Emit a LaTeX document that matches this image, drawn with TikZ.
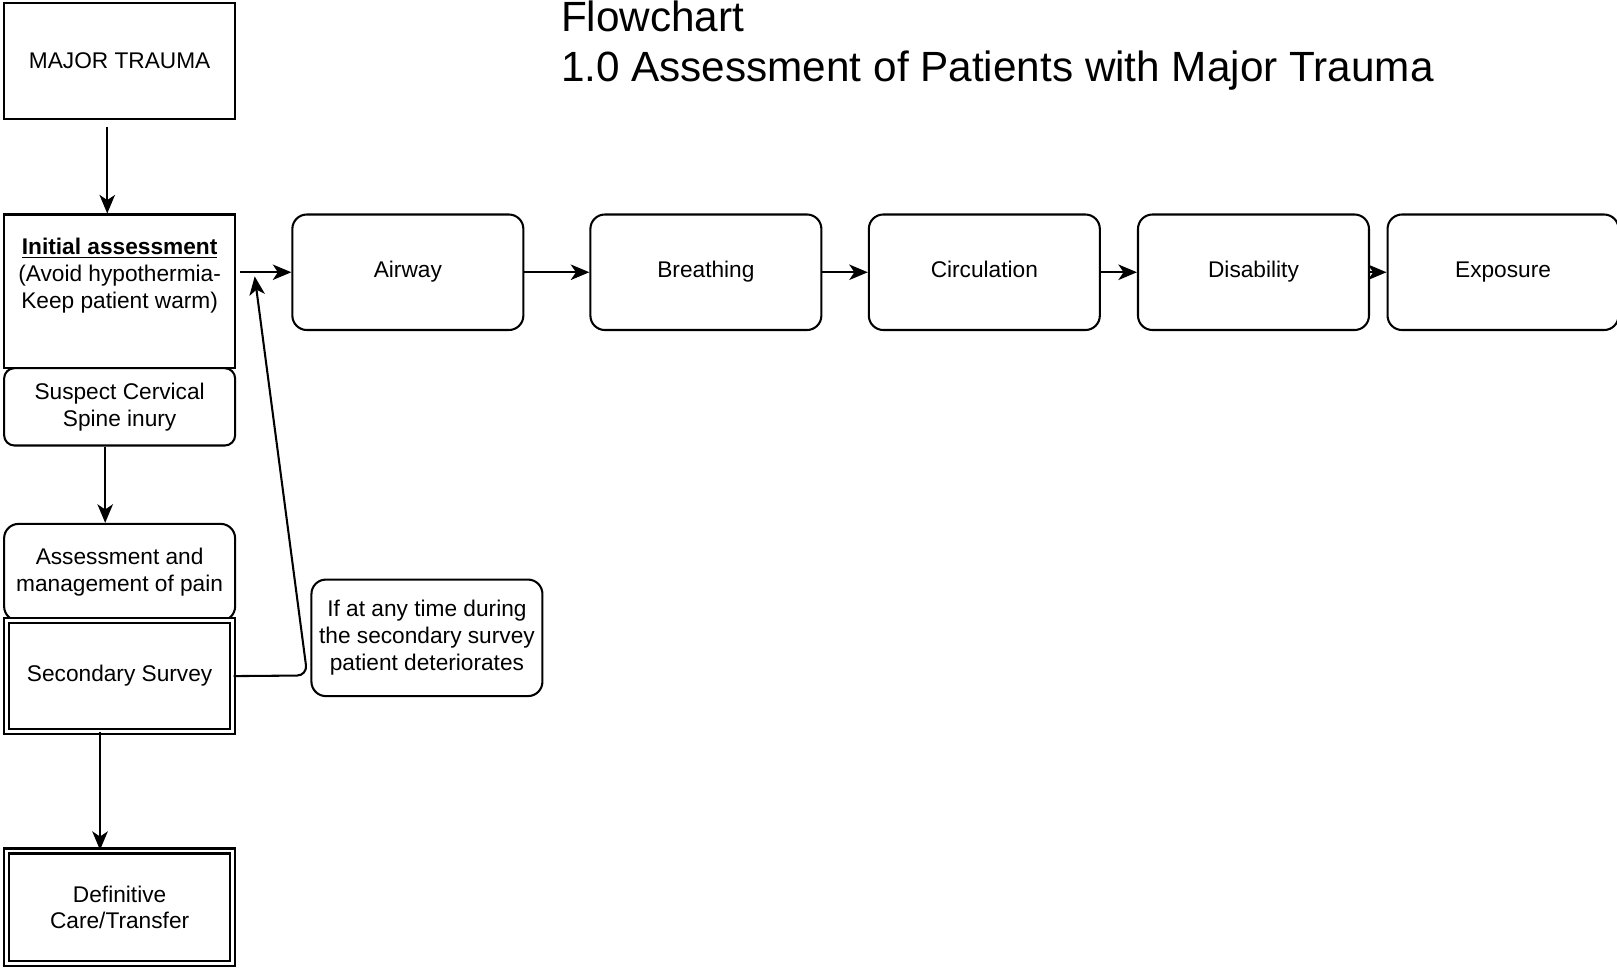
\documentclass[tikz,border=0pt]{standalone}
\usepackage{fontspec}
\setmainfont{Liberation Sans}
\usetikzlibrary{arrows.meta,positioning}

\begin{document}
\begin{tikzpicture}
[
x=1pt, y=1pt, line width=1pt,
>={Stealth[length=9pt,width=7.5pt,inset=2.5pt]},
box/.style={rectangle, draw=black, line width=1pt, minimum width=112pt, minimum height=56pt, align=center, inner sep=2pt, font=\fontsize{11}{13}\selectfont},
rbox/.style={box, rounded corners=7pt},
abox/.style={rbox, text height=8pt, text depth=2.5pt},
dbox/.style={box, double, double distance=1.4pt, line width=1pt, minimum width=109.6pt, minimum height=53.6pt},
title/.style={align=left, inner sep=0pt, font=\fontsize{20.5}{24}\selectfont}
]
\useasboundingbox (0,0) rectangle (784,-469);

%Nodes
\node[title]  (title)       at (271.5,-39.5) [anchor=base west] {Flowchart\\1.0 Assessment of Patients with Major Trauma};
\node[box]    (major)       at (58,-29.5)                     {MAJOR TRAUMA};
\node[box, minimum height=74.5pt, text depth=17.5pt]
              (init_ass)    [below=45.5pt of major]           {\underline{\textbf{Initial assessment}}\\(Avoid hypothermia-\\Keep patient warm)};
\node[rbox, minimum height=37.5pt, rounded corners=5pt]
              (cspine)      [below=-1pt of init_ass]          {Suspect Cervical\\Spine inury};
\node[rbox, minimum height=47pt]
              (pain)        [below=37pt of cspine]            {Assessment and\\management of pain};
\node[dbox]   (sec_survey)  [below=-1pt of pain]              {Secondary Survey};
\node[dbox, minimum height=54.6pt]
              (def_care)    [below=57pt of sec_survey]        {Definitive\\Care/Transfer};
\node[rbox, minimum height=56.5pt]
              (note)        at (207,-309.25)                  {If at any time during\\the secondary survey\\patient deteriorates};

\node[abox]   (airway)      at (197.75,-132)                  {Airway};
\node[abox]   (breathing)   [right=31.5pt of airway]          {Breathing};
\node[abox]   (circulation) [right=22pt of breathing]         {Circulation};
\node[abox]   (disability)  [right=17.5pt of circulation]     {Disability};
\node[abox]   (exposure)    [right=8pt of disability]         {Exposure};

\coordinate (bend)   at (149,-327.5);
\coordinate (fb_tip) at (123.5,-134);

%Lines
\path[->]
([xshift=-6pt]major.south)      edge [shorten <=3.5pt] ([xshift=-6pt]init_ass.north)
([xshift=-7pt]cspine.south)     edge                   ([xshift=-7pt]pain.north)
([xshift=-9.5pt]sec_survey.south) edge                 ([xshift=-9.5pt]def_care.north)
(init_ass.east |- airway.west)  edge [shorten <=2pt]   (airway)
(airway)      edge (breathing)
(breathing)   edge (circulation)
(circulation) edge (disability)
(disability)  edge (exposure);
\draw[->, rounded corners=5pt] (sec_survey.east) -- (bend) -- (fb_tip);
\end{tikzpicture}
\end{document}
